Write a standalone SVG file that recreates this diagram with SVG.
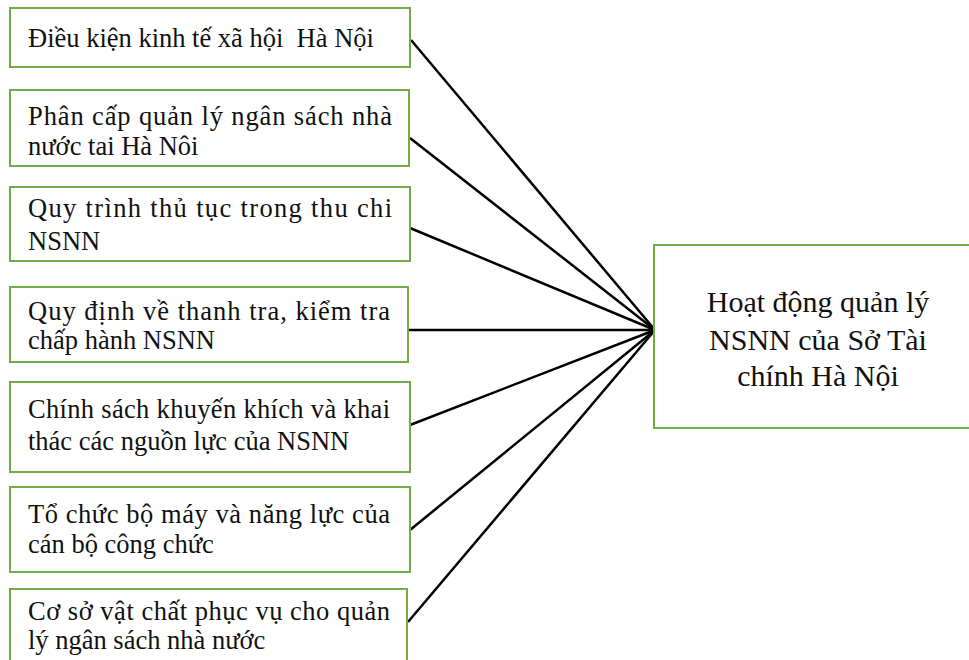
<svg xmlns="http://www.w3.org/2000/svg" width="969" height="660" viewBox="0 0 969 660">
<style>
.box{fill:#fff;stroke:#70ad47;stroke-width:2}
.t{font-family:'Liberation Serif','Times New Roman',serif;font-size:26.5px;fill:#111}
.c{font-family:'Liberation Serif','Times New Roman',serif;font-size:30px;fill:#111;text-anchor:middle}
.ln{stroke:#000;stroke-width:2.5;fill:none}
</style>
<rect width="969" height="660" fill="#fff"/>
<g id="connectors">
<line class="ln" x1="411" y1="40" x2="655" y2="330"/>
<line class="ln" x1="410" y1="138" x2="655" y2="330"/>
<line class="ln" x1="410" y1="228" x2="655" y2="330"/>
<line class="ln" x1="409" y1="330" x2="655" y2="330"/>
<line class="ln" x1="410" y1="425" x2="655" y2="330"/>
<line class="ln" x1="410" y1="530" x2="655" y2="330"/>
<line class="ln" x1="408" y1="622" x2="655" y2="330"/>
</g>
<g id="n1">
<rect class="box" x="10" y="8" width="400" height="59"/>
<text class="t" x="28" y="47" xml:space="preserve">Điều kiện kinh tế xã hội  Hà Nội</text>
</g>
<g id="n2">
<rect class="box" x="10" y="90" width="399" height="76"/>
<text class="t" x="28" y="125" textLength="364" lengthAdjust="spacing">Phân cấp quản lý ngân sách nhà</text>
<text class="t" x="28" y="155">nước tai Hà Nôi</text>
</g>
<g id="n3">
<rect class="box" x="10" y="187" width="400" height="74"/>
<text class="t" x="28" y="217" textLength="364" lengthAdjust="spacing">Quy trình thủ tục trong thu chi</text>
<text class="t" x="28" y="250">NSNN</text>
</g>
<g id="n4">
<rect class="box" x="10" y="287" width="398" height="75"/>
<text class="t" x="28" y="320" textLength="362" lengthAdjust="spacing">Quy định về thanh tra, kiểm tra</text>
<text class="t" x="28" y="349">chấp hành NSNN</text>
</g>
<g id="n5">
<rect class="box" x="10" y="382" width="400" height="90"/>
<text class="t" x="28" y="418" textLength="362" lengthAdjust="spacing">Chính sách khuyến khích và khai</text>
<text class="t" x="28" y="450">thác các nguồn lực của NSNN</text>
</g>
<g id="n6">
<rect class="box" x="10" y="487" width="400" height="85"/>
<text class="t" x="28" y="523" textLength="362" lengthAdjust="spacing">Tổ chức bộ máy và năng lực của</text>
<text class="t" x="28" y="553">cán bộ công chức</text>
</g>
<g id="n7">
<rect class="box" x="10" y="589" width="397" height="90"/>
<text class="t" x="28" y="620" textLength="362" lengthAdjust="spacing">Cơ sở vật chất phục vụ cho quản</text>
<text class="t" x="28" y="649">lý ngân sách nhà nước</text>
</g>
<g id="target">
<rect class="box" x="654" y="245" width="330" height="183"/>
<text class="c" x="818" y="312">Hoạt động quản lý</text>
<text class="c" x="818" y="350">NSNN của Sở Tài</text>
<text class="c" x="818" y="386">chính Hà Nội</text>
</g>
</svg>
